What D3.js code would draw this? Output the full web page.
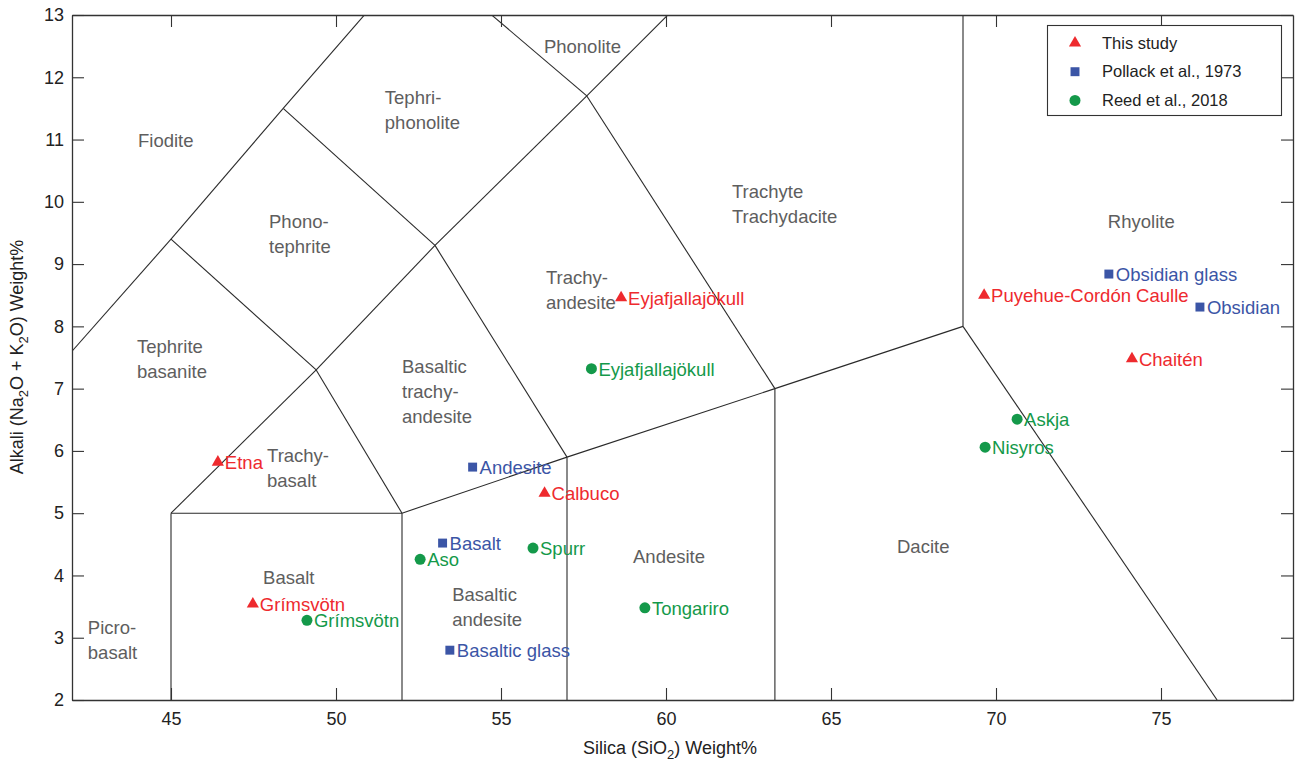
<!DOCTYPE html>
<html>
<head>
<meta charset="utf-8">
<script src="https://cdn.jsdelivr.net/npm/d3@7"></script>
<style>
  html, body { margin: 0; padding: 0; background: #fff; }
  svg { display: block; font-family: "Liberation Sans", Arial, Helvetica, sans-serif; }
</style>
</head>
<body>
<svg id="chart" width="1296" height="767"></svg>
<script>
// Total alkali vs silica (TAS) classification diagram

const xTicks = [45, 50, 55, 60, 65, 70, 75];
const yTicks = [2, 3, 4, 5, 6, 7, 8, 9, 10, 11, 12, 13];

// Field boundaries, [SiO2, Na2O+K2O] end points
const boundaries = [
  [[45, 0], [45, 5]],
  [[45, 5], [52, 5]],
  [[52, 0], [52, 5]],
  [[52, 5], [57, 5.9]],
  [[57, 0], [57, 5.9]],
  [[57, 5.9], [63.3, 7]],
  [[63.3, 0], [63.3, 7]],
  [[63.3, 7], [69, 8]],
  [[69, 8], [69, 14]],
  [[69, 8], [76.7, 2]],
  [[45, 5], [49.4, 7.3]],
  [[49.4, 7.3], [52, 5]],
  [[49.4, 7.3], [53, 9.3]],
  [[53, 9.3], [57, 5.9]],
  [[53, 9.3], [57.6, 11.7]],
  [[57.6, 11.7], [63.3, 7]],
  [[41, 7], [45, 9.4]],
  [[45, 9.4], [49.4, 7.3]],
  [[45, 9.4], [48.4, 11.5]],
  [[48.4, 11.5], [53, 9.3]],
  [[48.4, 11.5], [52.5, 14]],
  [[52.5, 14], [57.6, 11.7]],
  [[57.6, 11.7], [63, 14.56]]
];

// Field names: text lines, anchor (left edge, first line centre)
const fieldNames = [
  { lines: ["Fiodite"], x: 44.0, y: 10.98 },
  { lines: ["Tephri-", "phonolite"], x: 51.48, y: 11.68 },
  { lines: ["Phonolite"], x: 56.3, y: 12.49 },
  { lines: ["Trachyte", "Trachydacite"], x: 62.0, y: 10.17 },
  { lines: ["Phono-", "tephrite"], x: 47.97, y: 9.69 },
  { lines: ["Rhyolite"], x: 73.39, y: 9.68 },
  { lines: ["Tephrite", "basanite"], x: 43.97, y: 7.67 },
  { lines: ["Trachy-", "andesite"], x: 56.36, y: 8.79 },
  { lines: ["Basaltic", "trachy-", "andesite"], x: 52.0, y: 7.36 },
  { lines: ["Trachy-", "basalt"], x: 47.91, y: 5.92 },
  { lines: ["Andesite"], x: 59.0, y: 4.30 },
  { lines: ["Dacite"], x: 67.0, y: 4.47 },
  { lines: ["Basalt"], x: 47.79, y: 3.97 },
  { lines: ["Basaltic", "andesite"], x: 53.52, y: 3.69 },
  { lines: ["Picro-", "basalt"], x: 42.48, y: 3.17 }
];

// Samples
const thisStudy = [
  { name: "Etna", silica: 46.42, alkali: 5.82 },
  { name: "Grímsvötn", silica: 47.48, alkali: 3.54 },
  { name: "Calbuco", silica: 56.32, alkali: 5.32 },
  { name: "Eyjafjallajökull", silica: 58.64, alkali: 8.46 },
  { name: "Puyehue-Cordón Caulle", silica: 69.64, alkali: 8.50 },
  { name: "Chaitén", silica: 74.12, alkali: 7.48 }
];
const pollack1973 = [
  { name: "Obsidian glass", silica: 73.42, alkali: 8.84 },
  { name: "Obsidian", silica: 76.18, alkali: 8.31 },
  { name: "Andesite", silica: 54.14, alkali: 5.74 },
  { name: "Basalt", silica: 53.23, alkali: 4.52 },
  { name: "Basaltic glass", silica: 53.45, alkali: 2.80 }
];
const reed2018 = [
  { name: "Eyjafjallajökull", silica: 57.74, alkali: 7.32 },
  { name: "Askja", silica: 70.64, alkali: 6.51 },
  { name: "Nisyros", silica: 69.67, alkali: 6.06 },
  { name: "Spurr", silica: 55.97, alkali: 4.44 },
  { name: "Aso", silica: 52.55, alkali: 4.26 },
  { name: "Tongariro", silica: 59.36, alkali: 3.48 },
  { name: "Grímsvötn", silica: 49.12, alkali: 3.28 }
];

const seriesNames = ["This study", "Pollack et al., 1973", "Reed et al., 2018"];
const seriesColors = ["#ee2a2e", "#3b55a6", "#14994a"];

const series = [
  { label: seriesNames[0], data: thisStudy, color: seriesColors[0], symbol: d3.symbolTriangle, size: 64 },
  { label: seriesNames[1], data: pollack1973, color: seriesColors[1], symbol: d3.symbolSquare, size: 80 },
  { label: seriesNames[2], data: reed2018, color: seriesColors[2], symbol: d3.symbolCircle, size: 95 }
];

const plotLeft = 72, plotRight = 1293, plotTop = 15, plotBottom = 700;
const x = d3.scaleLinear().domain([42, 79]).range([plotLeft, plotRight]);
const y = d3.scaleLinear().domain([2, 13]).range([plotBottom, plotTop]);

const svg = d3.select("#chart");
const axisColor = "#333";
const fontSize = 18;
const labelSize = 18.5;

svg.append("defs").append("clipPath").attr("id", "plotClip")
  .append("rect")
  .attr("x", plotLeft).attr("y", plotTop)
  .attr("width", plotRight - plotLeft).attr("height", plotBottom - plotTop);

// Field boundaries
svg.append("g").attr("clip-path", "url(#plotClip)")
  .selectAll("line").data(boundaries).join("line")
  .attr("x1", d => x(d[0][0])).attr("y1", d => y(d[0][1]))
  .attr("x2", d => x(d[1][0])).attr("y2", d => y(d[1][1]))
  .attr("stroke", "#2a2a2a").attr("stroke-width", 1.1);

// Field names
const names = svg.append("g")
  .attr("fill", "#5e5e5e")
  .attr("font-size", labelSize);
fieldNames.forEach(f => {
  const t = names.append("text")
    .attr("x", x(f.x)).attr("y", y(f.y));
  f.lines.forEach((ln, i) => {
    t.append("tspan")
      .attr("x", x(f.x))
      .attr("dy", i === 0 ? "0.35em" : 25)
      .text(ln);
  });
});

// Axes: box with inward ticks
function styleAxis(g) {
  g.select(".domain").attr("stroke", axisColor).attr("stroke-width", 1.3);
  g.selectAll(".tick line").attr("stroke", axisColor).attr("stroke-width", 1.1);
  g.selectAll(".tick text").attr("fill", "#222").attr("font-size", fontSize)
    .attr("font-family", "'Liberation Sans', Arial, Helvetica, sans-serif");
}
svg.append("g").attr("transform", `translate(0,${plotBottom})`)
  .call(d3.axisBottom(x).tickValues(xTicks).tickSizeInner(-12).tickSizeOuter(0).tickPadding(12))
  .call(styleAxis);
svg.append("g").attr("transform", `translate(0,${plotTop})`)
  .call(d3.axisTop(x).tickValues(xTicks).tickSizeInner(-12).tickSizeOuter(0).tickFormat(""))
  .call(styleAxis);
svg.append("g").attr("transform", `translate(${plotLeft},0)`)
  .call(d3.axisLeft(y).tickValues(yTicks).tickSizeInner(-12).tickSizeOuter(0).tickPadding(8))
  .call(styleAxis);
svg.append("g").attr("transform", `translate(${plotRight},0)`)
  .call(d3.axisRight(y).tickValues(yTicks).tickSizeInner(-12).tickSizeOuter(0).tickFormat(""))
  .call(styleAxis);

// Axis titles
const xt = svg.append("text")
  .attr("x", 670).attr("y", 754)
  .attr("text-anchor", "middle")
  .attr("font-size", fontSize).attr("fill", "#222");
xt.append("tspan").text("Silica (SiO");
xt.append("tspan").attr("dy", 5).attr("font-size", 13).text("2");
xt.append("tspan").attr("dy", -5).text(") Weight%");

const yt = svg.append("text")
  .attr("transform", "translate(23,357) rotate(-90)")
  .attr("text-anchor", "middle")
  .attr("font-size", fontSize).attr("fill", "#222");
yt.append("tspan").text("Alkali (Na");
yt.append("tspan").attr("dy", 5).attr("font-size", 13).text("2");
yt.append("tspan").attr("dy", -5).text("O + K");
yt.append("tspan").attr("dy", 5).attr("font-size", 13).text("2");
yt.append("tspan").attr("dy", -5).text("O) Weight%");

// Sample markers and names
series.forEach(s => {
  const g = svg.append("g");
  g.selectAll("path").data(s.data).join("path")
    .attr("transform", d => `translate(${x(d.silica)},${y(d.alkali)})`)
    .attr("d", d3.symbol().type(s.symbol).size(s.size))
    .attr("fill", s.color);
  g.selectAll("text").data(s.data).join("text")
    .attr("x", d => x(d.silica) + 7)
    .attr("y", d => y(d.alkali))
    .attr("dy", "0.37em")
    .attr("font-size", labelSize)
    .attr("fill", s.color)
    .text(d => d.name);
});

// Legend
const legend = svg.append("g");
legend.append("rect")
  .attr("x", 1047.5).attr("y", 25.5).attr("width", 234).attr("height", 90)
  .attr("fill", "#fff").attr("stroke", "#333").attr("stroke-width", 1.1);
series.forEach((s, i) => {
  const cy = 43 + i * 28.7;
  legend.append("path")
    .attr("transform", `translate(1075,${cy})`)
    .attr("d", d3.symbol().type(s.symbol).size(s.size))
    .attr("fill", s.color);
  legend.append("text")
    .attr("x", 1102).attr("y", cy).attr("dy", "0.35em")
    .attr("font-size", 16.5).attr("fill", "#222")
    .text(s.label);
});
</script>
</body>
</html>
